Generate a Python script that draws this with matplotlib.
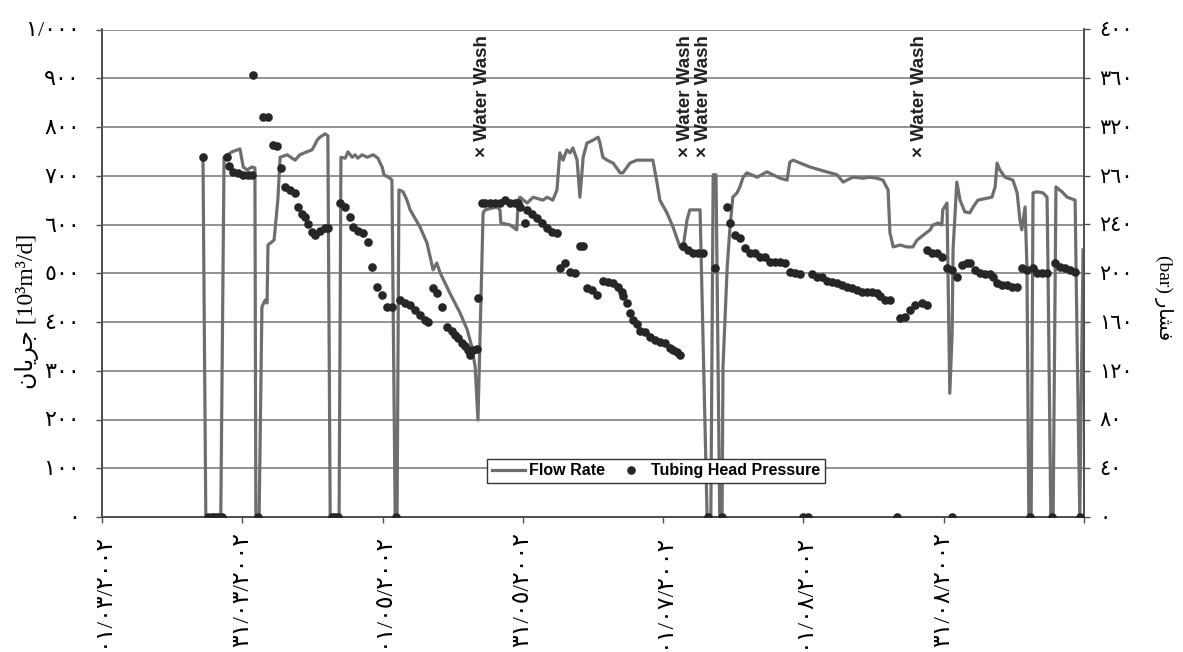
import matplotlib
matplotlib.use("Agg")
import matplotlib.pyplot as plt
from matplotlib.lines import Line2D

# ---------------- data ----------------
date_labels = ['٠١/٠٣/٢٠٠٢', '٣١/٠٣/٢٠٠٢', '٠١/٠٥/٢٠٠٢', '٣١/٠٥/٢٠٠٢',
               '٠١/٠٧/٢٠٠٢', '٠١/٠٨/٢٠٠٢', '٣١/٠٨/٢٠٠٢', '']
date_ticks = [0, 30, 60, 90, 120, 150, 180, 210]

flow_ticks = [0, 100, 200, 300, 400, 500, 600, 700, 800, 900, 1000]
flow_tick_labels = ['٠', '١٠٠', '٢٠٠', '٣٠٠', '٤٠٠', '٥٠٠', '٦٠٠', '٧٠٠', '٨٠٠', '٩٠٠', '١/٠٠٠']
pres_ticks = [0, 40, 80, 120, 160, 200, 240, 280, 320, 360, 400]
pres_tick_labels = ['٠', '٤٠', '٨٠', '١٢٠', '١٦٠', '٢٠٠', '٢٤٠', '٢٦٠', '٣٢٠', '٣٦٠', '٤٠٠']

flow_day = [21.6, 22.2, 25.4, 26.1, 27.8, 29.5, 30.2, 31.0, 32.1, 32.7, 32.9, 33.6, 34.2, 34.9,
            35.3, 35.5, 36.8, 37.6, 38.1, 39.6, 41.3, 42.3, 43.8, 44.9, 45.5, 46.0, 46.6, 47.7,
            48.3, 48.8, 50.7, 51.1, 52.0, 52.6, 53.5, 54.1, 54.7, 55.6, 56.7, 58.0, 59.0, 59.9,
            60.3, 61.6, 62.0, 62.7, 63.1, 63.5, 64.4, 65.2, 65.9, 68.0, 69.5, 70.8, 71.6, 72.3,
            74.4, 76.6, 78.1, 79.1, 79.8, 80.4, 81.5, 81.9, 84.5, 85.1, 85.3, 87.3, 88.7, 89.0,
            89.4, 90.9, 92.2, 94.3, 95.2, 96.4, 97.3, 97.9, 98.6, 99.4, 100.1, 100.7, 101.6,
            102.2, 102.9, 103.7, 105.0, 106.1, 106.5, 107.1, 108.0, 109.3, 110.8, 111.4, 112.9,
            114.4, 117.8, 118.7, 119.3, 120.8, 122.1, 123.6, 124.2, 125.1, 125.7, 127.9, 129.4,
            130.2, 130.7, 131.3, 132.1, 132.6, 132.8, 133.7, 134.3, 134.9, 135.8, 136.4, 137.1,
            137.9, 140.1, 142.2, 143.5, 145.0, 146.5, 147.1, 147.8, 149.3, 151.4, 153.5, 155.0,
            157.2, 158.5, 159.3, 160.6, 162.7, 164.2, 165.7, 167.0, 168.1, 168.5, 169.2, 170.7,
            172.1, 173.4, 174.3, 175.6, 177.1, 177.7, 178.8, 179.6, 179.8, 180.7, 180.9, 181.3,
            181.8, 182.0, 182.8, 183.5, 184.5, 185.6, 186.3, 187.3, 189.3, 190.3, 191.0, 191.4,
            192.0, 193.1, 194.8, 195.7, 196.3, 196.7, 197.4, 197.8, 198.2, 198.7, 199.1, 199.9,
            201.2, 202.1, 202.3, 202.9, 203.4, 204.0, 205.3, 206.4, 208.1, 208.5, 209.1, 209.8]
flow_rate = [732, 0, 0, 738, 749, 755, 718, 712, 718, 716, 0, 0, 431, 445,
             439, 558, 568, 650, 738, 743, 732, 743, 749, 753, 763, 773, 779, 786,
             782, 0, 0, 738, 736, 749, 738, 743, 736, 743, 738, 743, 736, 718,
             702, 695, 691, 0, 0, 671, 667, 650, 630, 595, 562, 507, 521, 501,
             459, 418, 384, 349, 308, 199, 624, 630, 636, 630, 603, 599, 589, 650,
             656, 644, 656, 650, 656, 650, 671, 747, 732, 753, 747, 757, 732,
             656, 738, 767, 773, 779, 767, 738, 732, 726, 706, 706, 726,
             732, 732, 685, 650, 624, 595, 554, 548, 609, 630, 630, 0,
             0, 702, 702, 0, 0, 308, 513, 595, 656, 665, 677, 697,
             706, 697, 708, 702, 695, 691, 728, 732, 726, 718, 712, 708,
             702, 687, 691, 697, 695, 697, 695, 691, 671, 583, 554, 558,
             554, 554, 568, 578, 589, 599, 603, 599, 630, 644, 513, 254,
             377, 548, 687, 650, 626, 624, 636, 650, 654, 656, 677, 726,
             712, 697, 691, 665, 609, 589, 636, 513, 0, 0, 665, 667,
             665, 656, 513, 0, 0, 677, 667, 656, 650, 377, 0, 548]

pres_day = [21.6, 22.7, 23.5, 24.2, 24.8, 25.7, 26.7, 27.2, 28.0, 29.1, 30.2, 31.2, 32.1, 32.3,
            33.4, 34.4, 35.5, 36.6, 37.4, 38.3, 39.1, 40.2, 41.3, 41.9, 42.8, 43.4, 44.1, 44.9,
            45.5, 46.6, 47.7, 48.3, 49.2, 49.8, 50.5, 50.9, 52.0, 53.0, 53.7, 54.7, 55.8, 56.9,
            57.7, 58.8, 59.9, 61.0, 62.0, 62.9, 63.7, 64.8, 65.9, 66.9, 68.0, 69.1, 69.7, 70.8,
            71.6, 72.7, 73.8, 74.8, 75.5, 76.1, 77.0, 77.6, 78.3, 78.7, 79.3, 80.2, 80.4, 81.3,
            81.9, 83.0, 84.0, 85.1, 86.2, 87.3, 88.3, 89.0, 89.4, 90.5, 90.9, 92.0, 93.0, 94.1,
            95.2, 96.2, 97.3, 97.9, 99.0, 100.1, 101.2, 102.2, 102.9, 103.7, 104.8, 105.9, 107.1,
            108.2, 109.3, 110.3, 111.2, 111.4, 112.3, 112.9, 113.6, 114.4, 115.1, 116.1, 117.2,
            118.3, 119.3, 120.4, 121.5, 122.1, 123.0, 123.6, 124.2, 125.3, 126.4, 127.5, 128.5,
            129.6, 131.1, 132.6, 133.7, 134.3, 135.4, 136.4, 137.5, 138.6, 139.6, 140.7, 141.8,
            142.9, 143.9, 145.0, 146.1, 147.1, 148.2, 149.3, 149.9, 151.0, 151.8, 152.9, 154.0,
            155.0, 156.1, 157.2, 158.2, 159.3, 160.4, 161.5, 162.5, 163.6, 164.7, 165.7, 166.4,
            167.4, 168.5, 170.0, 170.7, 171.7, 172.8, 173.9, 175.4, 176.4, 176.4, 177.5, 178.6,
            179.6, 180.7, 181.8, 181.8, 182.8, 183.9, 185.0, 185.6, 186.7, 187.8, 188.8, 189.9,
            190.5, 191.4, 192.5, 193.5, 194.6, 195.7, 196.7, 197.8, 198.5, 199.1, 199.9, 201.0,
            202.1, 203.2, 203.8, 204.9, 205.9, 207.0, 208.1, 209.1]
pres_bar = [295, 0, 0, 0, 0, 0, 295, 288, 283, 282, 281, 281, 281, 363,
            0, 328, 328, 305, 304, 286, 271, 268, 266, 254, 249, 246, 240, 234,
            231, 235, 237, 237, 0, 0, 0, 258, 254, 246, 238, 235, 233, 226,
            205, 189, 182, 172, 172, 0, 178, 176, 174, 170, 166, 162, 160, 188,
            184, 172, 156, 153, 149, 147, 143, 140, 137, 133, 137, 138, 180, 258,
            258, 258, 258, 258, 260, 258, 258, 258, 254, 241, 252, 249, 245, 241,
            237, 234, 233, 204, 208, 201, 200, 222, 222, 188, 186, 182, 194,
            193, 192, 189, 185, 181, 176, 167, 162, 158, 153, 152, 148,
            145, 144, 143, 139, 137, 135, 133, 222, 219, 217, 217, 217,
            0, 204, 0, 254, 241, 231, 229, 221, 217, 217, 213, 213,
            209, 209, 209, 208, 201, 200, 199, 0, 0, 199, 197, 197,
            194, 193, 192, 190, 189, 188, 186, 185, 185, 185, 184, 181,
            178, 178, 0, 163, 164, 170, 174, 176, 174, 219, 217, 217,
            213, 204, 0, 203, 197, 207, 208, 208, 203, 200, 199, 199,
            197, 192, 190, 190, 189, 189, 204, 203, 0, 204, 200, 200,
            200, 0, 208, 205, 204, 203, 201, 0]

wash_day = [81.3, 124.7, 128.7, 174.9]
wash_level = 738

# ---------------- styling ----------------
LINE_C = '#6e6e6e'
DOT_C = '#262626'
GRID_C = '#8a8a8a'
SPINE_C = '#505050'
NUM_FONT = ['Liberation Serif', 'DejaVu Sans']
LAT_FONT = ['Liberation Sans', 'DejaVu Sans']

fig = plt.figure(figsize=(11.83, 6.52), dpi=100)
ax = fig.add_axes([102 / 1183, 1 - 517 / 652, 982 / 1183, 487.5 / 652])
ax2 = ax.twinx()

ax.plot(flow_day, flow_rate, color=LINE_C, lw=2.3, zorder=3)
ax2.plot(pres_day, pres_bar, ls='none', marker='o', ms=6.2, color=DOT_C,
         markeredgewidth=0, zorder=4)

ax.set_xlim(0, 210)
ax.set_ylim(0, 1000)
ax2.set_ylim(0, 400)

ax.set_axisbelow(True)
ax.yaxis.grid(True, color=GRID_C, lw=1.3)

ax.set_xticks(date_ticks)
ax.set_xticklabels(date_labels, rotation=90, va='top', ha='center',
                   family=NUM_FONT, fontsize=17)
ax.set_yticks(flow_ticks)
ax.set_yticklabels(flow_tick_labels, family=NUM_FONT, fontsize=16)
ax2.set_yticks(pres_ticks)
ax2.set_yticklabels(pres_tick_labels, family=NUM_FONT, fontsize=15)

ax.tick_params(axis='x', direction='out', length=4, width=1, color=SPINE_C, pad=7)
ax.tick_params(axis='y', direction='out', length=4, width=1, color=SPINE_C, pad=12)
ax2.tick_params(axis='y', direction='out', length=4, width=1, color=SPINE_C, pad=7)

for a in (ax, ax2):
    a.spines['top'].set_visible(False)
    for s in ('left', 'right', 'bottom'):
        a.spines[s].set_color(SPINE_C)
        a.spines[s].set_linewidth(1.3)

for d in wash_day:
    ax.text(d, wash_level, '× Water Wash', rotation=90, ha='center', va='bottom',
            family=LAT_FONT, fontsize=13.5, fontweight='bold', color='#222222', zorder=5)

# axis titles (Arabic shaped with presentation forms, visual order)
fig.text(27 / 1183, 1 - 311 / 652, '\uFEE5\uFE8E\uFEF3\uFEAE\uFE9F [10³m³/d]',
         rotation=90, ha='center', va='center', family=NUM_FONT, fontsize=17)
fig.text(1163 / 1183, 1 - 298 / 652, '(bar) \uFEAD\uFE8E\uFEB8\uFED3',
         rotation=-90, ha='center', va='center', family=NUM_FONT, fontsize=14)

handles = [Line2D([], [], color=LINE_C, lw=2.3),
           Line2D([], [], ls='none', marker='o', ms=6.2, color=DOT_C, markeredgewidth=0)]
leg = ax2.legend(handles, ['Flow Rate', 'Tubing Head Pressure'], loc='center',
                 bbox_to_anchor=((656 - 102) / 982, (517 - 471) / 487.5), ncol=2,
                 prop={'family': LAT_FONT, 'weight': 'bold', 'size': 11.5},
                 frameon=True, fancybox=False, framealpha=1, edgecolor='#333333',
                 handlelength=2.1, handletextpad=0.2, columnspacing=0.6,
                 borderpad=0.3, numpoints=1)
leg.get_frame().set_linewidth(1.0)
leg.set_zorder(10)

fig.savefig('out.png', dpi=100)
